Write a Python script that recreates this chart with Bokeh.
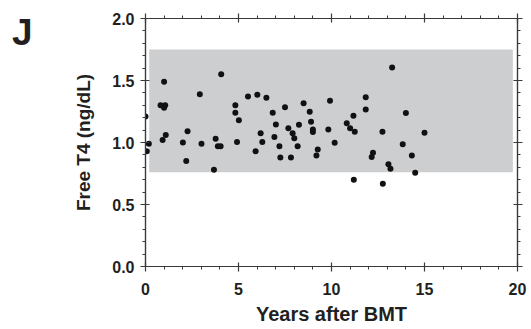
from bokeh.plotting import figure
from bokeh.models import (LinearAxis, FixedTicker, BoxAnnotation, Range1d, Div)
from bokeh.layouts import row
from bokeh.embed import file_html
from bokeh.resources import INLINE

# ---- data ----
years = [0.0, 0.07, 0.18, 0.81, 1.0, 1.0, 1.06, 0.92, 1.09, 2.01,
         2.19, 2.26, 2.92, 3.01, 3.68, 3.77, 3.89, 4.04, 4.07, 4.83,
         4.83, 4.92, 5.02, 5.51, 5.92, 6.01, 6.19, 6.28, 6.5, 6.84,
         6.93, 7.01, 7.2, 7.25, 7.5, 7.68, 7.82, 7.91, 8.0, 8.18,
         8.25, 8.5, 8.83, 8.9, 9.0, 9.0, 9.19, 9.26, 9.83, 9.92,
         10.17, 10.82, 11.0, 11.18, 11.2, 11.25, 11.84, 11.84, 12.16, 12.23,
         12.74, 12.76, 13.06, 13.17, 13.26, 13.83, 14.0, 14.32, 14.5, 15.0]
free_t4 = [1.21, 0.93, 0.99, 1.30, 1.49, 1.28, 1.30, 1.02, 1.06, 1.00,
           0.85, 1.09, 1.39, 0.99, 0.78, 1.03, 0.97, 0.97, 1.55, 1.30,
           1.24, 1.005, 1.18, 1.37, 0.93, 1.385, 1.075, 1.005, 1.36, 1.24,
           1.045, 1.145, 0.97, 0.88, 1.285, 1.115, 0.88, 1.075, 1.035, 0.97,
           1.143, 1.317, 1.247, 1.167, 1.105, 1.085, 0.895, 0.944, 1.105, 1.336,
           0.997, 1.156, 1.115, 1.215, 0.70, 1.086, 1.365, 1.266, 0.884, 0.917,
           1.086, 0.667, 0.825, 0.788, 1.605, 0.986, 1.237, 0.895, 0.756, 1.078]

ref_low, ref_high = 0.76, 1.75
ref_x_start, ref_x_end = 0.2, 19.75

x_ticks = [0, 5, 10, 15, 20]
y_ticks = [0.0, 0.5, 1.0, 1.5, 2.0]
x_tick_labels = ["0", "5", "10", "15", "20"]
y_tick_labels = ["0.0", "0.5", "1.0", "1.5", "2.0"]
x_minor = [i for i in range(0, 21)]
y_minor = [i / 10 for i in range(0, 21)]

panel_letter = "J"

FONT = "Liberation Sans"
TXT = "#231f20"
AX = "#3a3a3a"

p = figure(width=491, height=329, output_backend="svg", toolbar_location=None,
           x_range=Range1d(0, 20), y_range=Range1d(0, 2),
           x_axis_location=None, y_axis_location=None,
           min_border_left=105, min_border_right=14,
           min_border_top=18, min_border_bottom=63)
p.grid.visible = False
p.outline_line_color = AX
p.outline_line_width = 1.2
p.background_fill_color = "white"
p.border_fill_color = "white"

band = BoxAnnotation(left=ref_x_start, right=ref_x_end, bottom=ref_low, top=ref_high,
                     fill_color="#cdced0", fill_alpha=1.0, line_color=None,
                     level="underlay")
p.add_layout(band)

p.scatter(years, free_t4, size=6, color="#111111", line_color=None)


def style(ax, dim, labels=True):
    ticks = x_ticks if dim == 0 else y_ticks
    ax.ticker = FixedTicker(ticks=ticks,
                            minor_ticks=x_minor if dim == 0 else y_minor)
    ax.axis_line_color = AX
    ax.axis_line_width = 1.2
    ax.major_tick_line_color = AX
    ax.minor_tick_line_color = AX
    ax.major_tick_line_width = 1.2
    ax.minor_tick_line_width = 1.0
    ax.major_tick_out = 5
    ax.major_tick_in = 4
    ax.minor_tick_out = 3
    ax.minor_tick_in = 0
    ax.major_label_text_font = FONT
    ax.major_label_text_font_style = "bold"
    ax.major_label_text_font_size = "16px"
    ax.major_label_text_color = TXT
    ax.axis_label_text_font = FONT
    ax.axis_label_text_font_style = "bold"
    ax.axis_label_text_color = TXT
    labs = x_tick_labels if dim == 0 else y_tick_labels
    if labels:
        ax.major_label_overrides = {t: s for t, s in zip(ticks, labs)}
    else:
        ax.major_label_overrides = {t: "" for t in ticks}
        ax.major_label_text_font_size = "1px"
        ax.major_label_standoff = 0


xb = LinearAxis(axis_label="Years after BMT")
style(xb, 0)
xb.axis_label_text_font_size = "20px"
xb.major_label_standoff = 11
xb.axis_label_standoff = 5
p.add_layout(xb, "below")

yl = LinearAxis(axis_label="Free T4 (ng/dL)")
style(yl, 1)
yl.axis_label_text_font_size = "19px"
yl.major_label_standoff = 6
yl.axis_label_standoff = 15
p.add_layout(yl, "left")

xt = LinearAxis()
style(xt, 0, labels=False)
p.add_layout(xt, "above")

yr = LinearAxis()
style(yr, 1, labels=False)
p.add_layout(yr, "right")

letter = Div(text=('<div style="font-family: \'Liberation Sans\'; font-weight: bold; '
                   'font-size: 37px; line-height: 37px; color: %s; '
                   'padding-left: 12px; padding-top: 14px;">%s</div>') % (TXT, panel_letter),
             width=40, height=329, margin=0)

layout = row(letter, p, spacing=0, margin=0)

open("out.html", "w").write(file_html(layout, INLINE))
